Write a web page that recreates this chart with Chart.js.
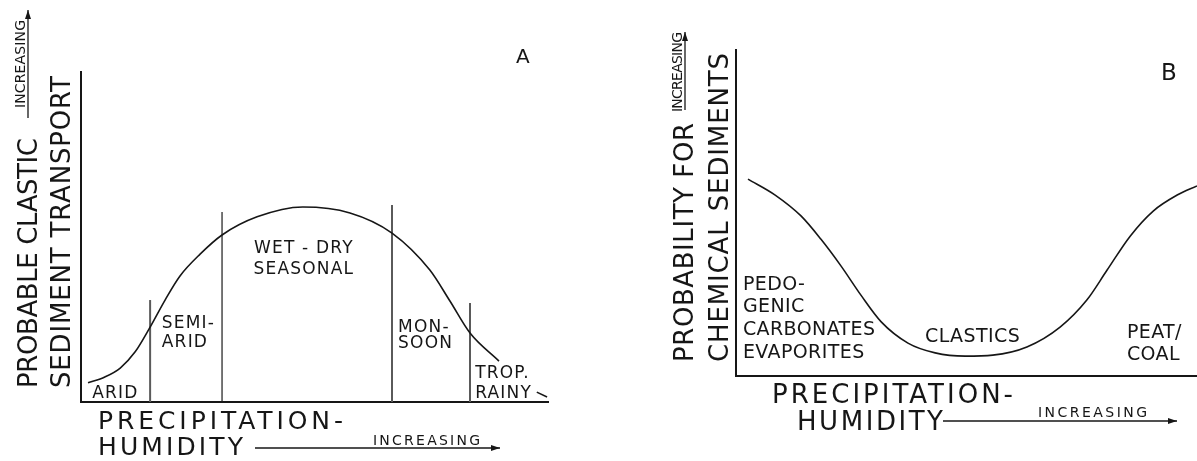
<!DOCTYPE html>
<html>
<head>
<meta charset="utf-8">
<script src="https://cdn.jsdelivr.net/npm/chart.js@4.4.1/dist/chart.umd.min.js"></script>
<style>
  html, body { margin:0; padding:0; background:#fff; }
  #wrap { position:relative; width:1197px; height:461px; overflow:hidden; }
  canvas { position:absolute; top:0; }
  #cA { left:0; }
  #cB { left:600px; }
</style>
</head>
<body>
<div id="wrap">
  <canvas id="cA" width="600" height="461"></canvas>
  <canvas id="cB" width="597" height="461"></canvas>
</div>
<script>
/* Two schematic curves: clastic transport (A) and chemical sediments (B) against precipitation. */

// --- panel A: probable clastic sediment transport
const CURVE_A_X = [1.5, 5.1, 8.4, 11.6, 14.8, 18.0, 21.2, 25.5, 30.2, 37.7, 47.5, 57.6, 66.6, 74.7, 79.0, 83.3, 89.5];
const CURVE_A_Y = [5.8, 7.6, 10.3, 15.2, 22.7, 30.9, 38.2, 44.8, 50.6, 56.1, 59.1, 57.3, 51.2, 40.0, 30.6, 20.9, 12.4];
const TAIL_A_X  = [97.6, 99.8];
const TAIL_A_Y  = [3.0, 1.5];
const ZONE_X    = [14.8, 30.2, 66.6, 83.3];
const ZONE_TOP  = [30.9, 57.6, 59.7, 30.0];
const ZONE_TEXT = [["ARID"], ["SEMI-", "ARID"], ["WET - DRY", "SEASONAL"], ["MON-", "SOON"], ["TROP.", "RAINY"]];
const ZONE_TX   = [2.4, 17.3, 47.6, 67.9, 84.4];
const ZONE_TY   = [[1.2], [22.4, 16.7], [45.2, 38.8], [21.2, 16.4], [7.3, 1.2]];

// --- panel B: probability for chemical sediments
const CURVE_B_X = [2.6, 8.5, 14.1, 18.4, 22.8, 27.1, 31.5, 37.3, 43.2, 49.7, 55.7, 63.1, 70.3, 76.1, 80.5, 85.5, 90.5, 95.7, 100];
const CURVE_B_Y = [60.4, 55.5, 49.1, 42.0, 33.7, 24.8, 16.6, 10.1, 7.1, 6.1, 6.4, 8.9, 15.0, 23.3, 32.5, 42.9, 50.6, 55.5, 58.3];
const SED_TEXT  = [["PEDO-", "GENIC", "CARBONATES", "EVAPORITES"], ["CLASTICS"], ["PEAT/", "COAL"]];
const SED_TX    = [1.5, 41.0, 84.8];
const SED_TY    = [[26.4, 19.6, 12.6, 5.5], [10.4], [11.7, 4.9]];

const INK = "#161616";
const FONT = "'DejaVu Sans', sans-serif";

const pts = (xs, ys) => xs.map((x, i) => ({ x, y: ys[i] }));

function fitText(ctx, str, x, y, len){
  ctx.letterSpacing = "0px";
  const w = ctx.measureText(str).width;
  const gap = str.length > 1 ? (len - w) / (str.length - 1) : 0;
  ctx.letterSpacing = gap + "px";
  ctx.fillText(str, x, y);
  ctx.letterSpacing = "0px";
}

function arrow(ctx, x1, y1, x2, y2){
  const a = Math.atan2(y2 - y1, x2 - x1), L = 9, W = 3;
  ctx.beginPath(); ctx.moveTo(x1, y1); ctx.lineTo(x2, y2); ctx.stroke();
  ctx.beginPath();
  ctx.moveTo(x2, y2);
  ctx.lineTo(x2 - L*Math.cos(a) + W*Math.sin(a), y2 - L*Math.sin(a) - W*Math.cos(a));
  ctx.lineTo(x2 - L*Math.cos(a) - W*Math.sin(a), y2 - L*Math.sin(a) + W*Math.cos(a));
  ctx.closePath(); ctx.fill();
}

function upText(ctx, str, bx, by, len){
  ctx.save(); ctx.translate(bx, by); ctx.rotate(-Math.PI/2);
  fitText(ctx, str, 0, 0, len);
  ctx.restore();
}

function zoneLabels(chart, texts, tx, ty, size, spacing, centerIdx){
  const { ctx, scales } = chart;
  ctx.font = size + "px " + FONT;
  ctx.letterSpacing = spacing + "px";
  texts.forEach((lines, i) => {
    const px = scales.x.getPixelForValue(tx[i]);
    lines.forEach((s, j) => {
      const py = scales.y.getPixelForValue(ty[i][j]);
      let x = px;
      if(i === centerIdx) x = px - (ctx.measureText(s).width - spacing) / 2;
      ctx.fillText(s, x, py);
    });
  });
  ctx.letterSpacing = "0px";
}

const textA = {
  id: "textA",
  afterDraw(chart){
    const ctx = chart.ctx;
    ctx.save();
    ctx.fillStyle = INK; ctx.strokeStyle = INK; ctx.lineWidth = 1.3;
    ctx.textAlign = "left"; ctx.textBaseline = "alphabetic";
    zoneLabels(chart, ZONE_TEXT, ZONE_TX, ZONE_TY, 17, 1.2, 2);

    ctx.font = "20px " + FONT;
    ctx.fillText("A", 516, 63);

    // y title
    ctx.font = "26px " + FONT;
    upText(ctx, "PROBABLE CLASTIC", 37, 388, 250);
    upText(ctx, "SEDIMENT TRANSPORT", 70, 388, 312);
    ctx.font = "14px " + FONT;
    upText(ctx, "INCREASING", 25, 108, 88);
    arrow(ctx, 28, 118, 28, 10);

    // x title
    ctx.font = "25px " + FONT;
    fitText(ctx, "PRECIPITATION-", 98, 429, 245);
    fitText(ctx, "HUMIDITY", 98, 455, 145);
    ctx.font = "14px " + FONT;
    fitText(ctx, "INCREASING", 373, 445, 107);
    arrow(ctx, 255, 448, 500, 448);
    ctx.restore();
  }
};

const textB = {
  id: "textB",
  afterDraw(chart){
    const ctx = chart.ctx;
    ctx.save();
    ctx.fillStyle = INK; ctx.strokeStyle = INK; ctx.lineWidth = 1.3;
    ctx.textAlign = "left"; ctx.textBaseline = "alphabetic";
    zoneLabels(chart, SED_TEXT, SED_TX, SED_TY, 19, 0.4, -1);

    ctx.font = "23px " + FONT;
    ctx.fillText("B", 561, 80);

    ctx.font = "26px " + FONT;
    upText(ctx, "PROBABILITY FOR", 93, 362, 239);
    upText(ctx, "CHEMICAL SEDIMENTS", 128, 362, 309);
    ctx.font = "14px " + FONT;
    upText(ctx, "INCREASING", 82, 112, 80);
    arrow(ctx, 85, 110, 85, 32);

    ctx.font = "26px " + FONT;
    fitText(ctx, "PRECIPITATION-", 172, 403, 241);
    fitText(ctx, "HUMIDITY", 197, 430, 146);
    ctx.font = "14px " + FONT;
    fitText(ctx, "INCREASING", 438, 417, 109);
    arrow(ctx, 343, 421, 577, 421);
    ctx.restore();
  }
};

function axes(){
  const ax = {
    type: "linear", min: 0, max: 100,
    grid: { display: false, drawTicks: false },
    ticks: { display: false },
    border: { display: true, color: INK, width: 2 }
  };
  return { x: { ...ax }, y: { ...ax } };
}

function baseOptions(padding){
  return {
    responsive: false, animation: false, events: [],
    layout: { padding },
    plugins: { legend: { display: false }, tooltip: { enabled: false } },
    scales: axes()
  };
}

const curveStyle = { borderColor: INK, borderWidth: 1.6, pointRadius: 0, fill: false, cubicInterpolationMode: "monotone" };

const dividers = ZONE_X.map((x, i) => ({
  data: [{ x, y: 0 }, { x, y: ZONE_TOP[i] }],
  borderColor: i === 1 ? "#1a1a1a" : "#5a5a5a",
  borderWidth: i === 1 ? 1.2 : 2,
  pointRadius: 0
}));

new Chart(document.getElementById("cA"), {
  type: "line",
  data: { datasets: [
    { data: pts(CURVE_A_X, CURVE_A_Y), ...curveStyle },
    { data: pts(TAIL_A_X, TAIL_A_Y), ...curveStyle },
    ...dividers
  ] },
  options: baseOptions({ left: 81, right: 52, top: 72, bottom: 59 }),
  plugins: [textA]
});

new Chart(document.getElementById("cB"), {
  type: "line",
  data: { datasets: [
    { data: pts(CURVE_B_X, CURVE_B_Y), ...curveStyle }
  ] },
  options: baseOptions({ left: 136, right: 0, top: 50, bottom: 85 }),
  plugins: [textB]
});
</script>
</body>
</html>
